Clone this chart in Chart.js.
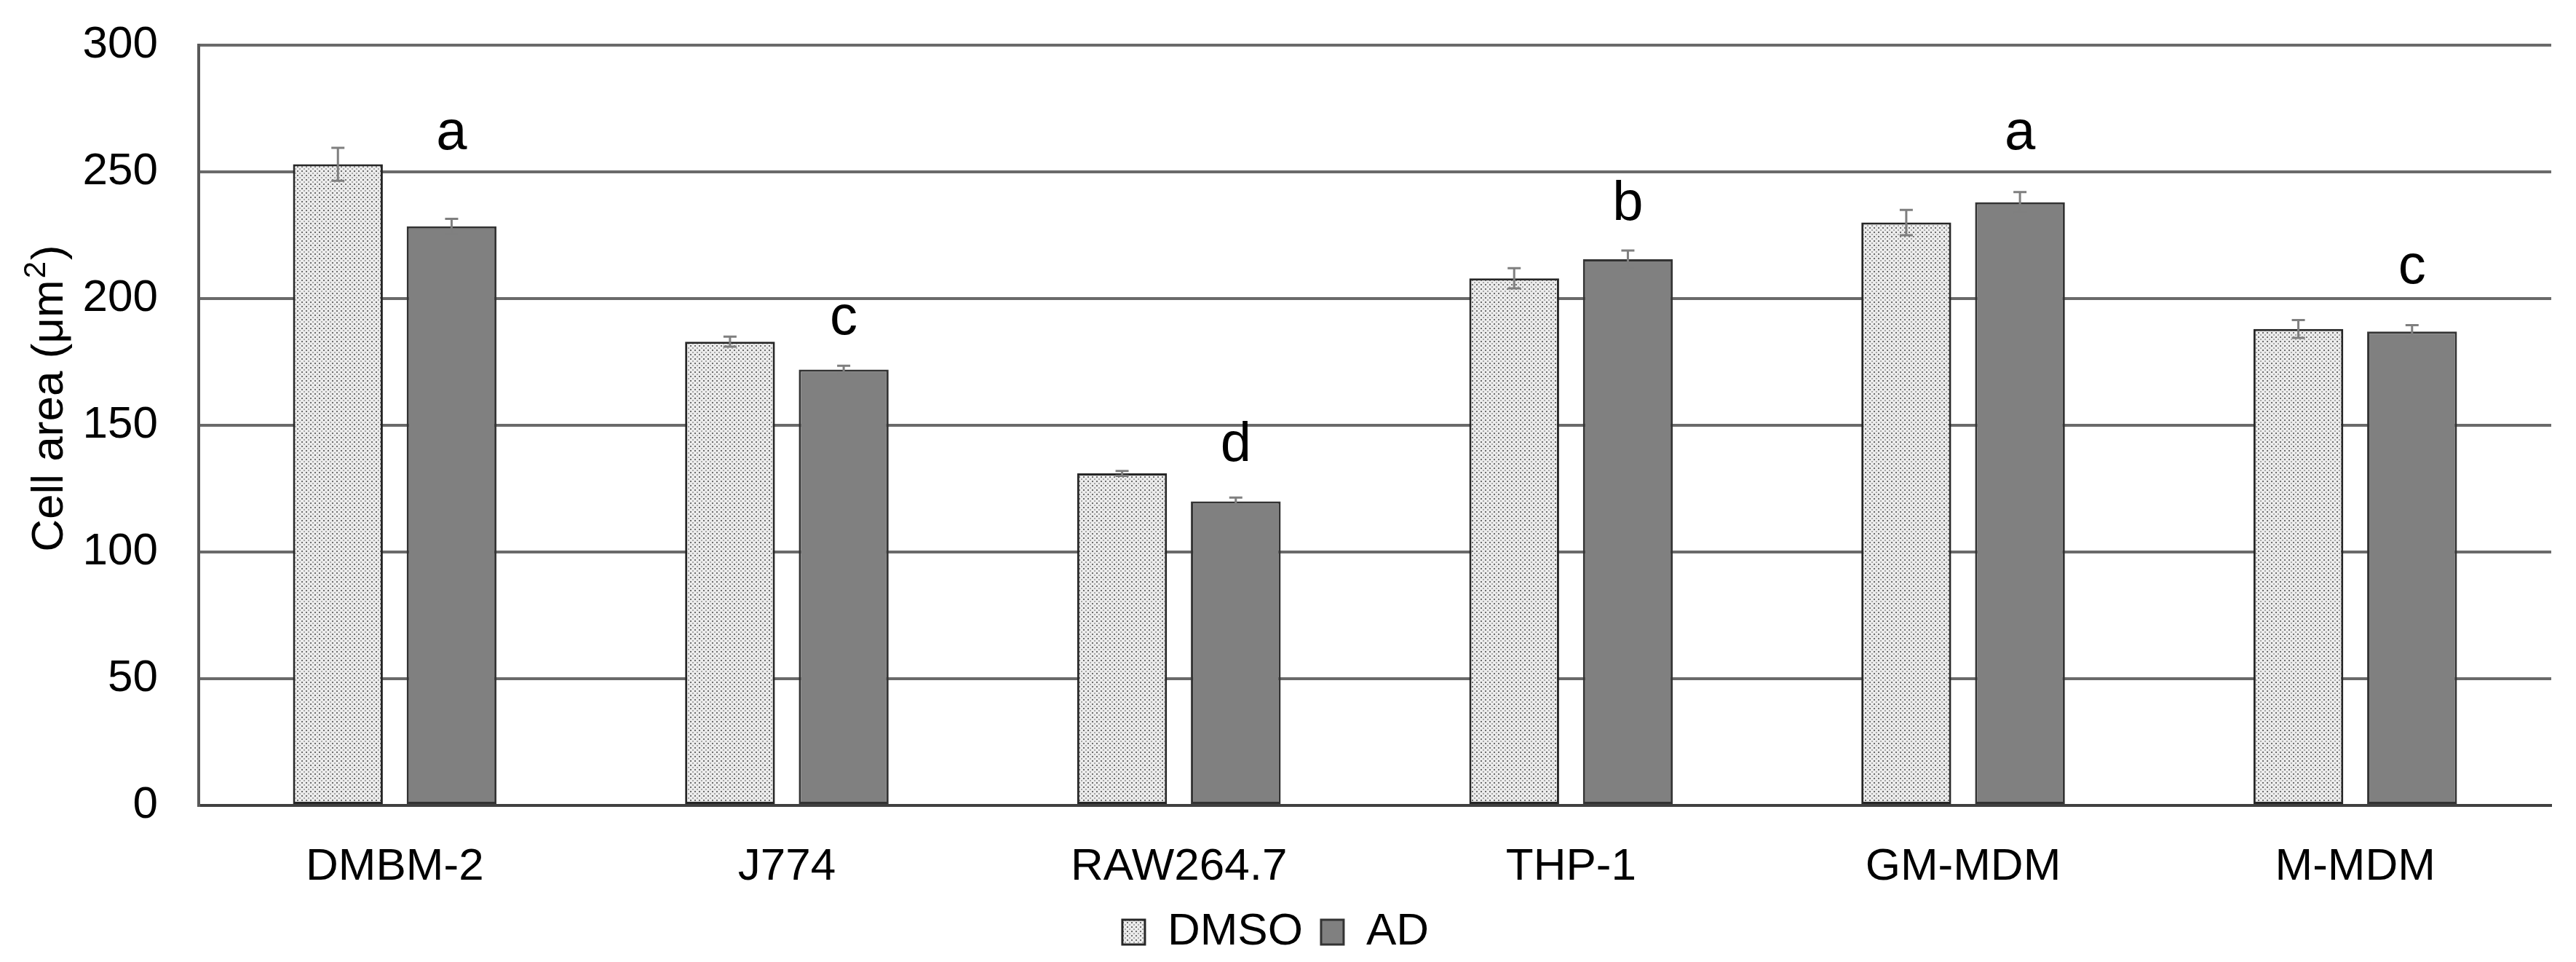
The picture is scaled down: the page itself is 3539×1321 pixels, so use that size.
<!DOCTYPE html>
<html>
<head>
<meta charset="utf-8">
<script src="https://cdn.jsdelivr.net/npm/chart.js@4.4.1/dist/chart.umd.min.js"></script>
<style>
  html, body { margin: 0; padding: 0; background: #fff; }
  #wrap { width: 3539px; height: 1321px; }
</style>
</head>
<body>
<div id="wrap"><canvas id="chart" width="3539" height="1321"></canvas></div>
<script>
var cellLines = ['DMBM-2', 'J774', 'RAW264.7', 'THP-1', 'GM-MDM', 'M-MDM'];
var dmsoArea = [253, 183, 131, 208, 230, 188];
var dmsoErr = [6.5, 2, 1, 4, 5, 3.5];
var adArea = [228.5, 172, 120, 215.5, 238, 187];
var adErr = [3, 1.5, 1.5, 3.5, 4, 2.5];
var groupLetters = ['a', 'c', 'd', 'b', 'a', 'c'];
var letterLevel = [265, 192, 142, 237, 265, 212];
var yTicks = [0, 50, 100, 150, 200, 250, 300];
var yTitle = ['Cell area (μm', '2', ')'];

var FONT = 'Liberation Sans, Arial, sans-serif';

// dotted fill like the Excel "5%" pattern
function dotPattern() {
    var c = document.createElement('canvas');
    c.width = 6; c.height = 6;
    var g = c.getContext('2d');
    g.fillStyle = '#ececec';
    g.fillRect(0, 0, 6, 6);
    g.fillStyle = '#6e6e6e';
    g.fillRect(0, 0, 2, 2);
    g.fillStyle = '#a8a8a8';
    g.fillRect(3, 3, 2, 2);
    return g.createPattern(c, 'repeat');
}

var errorBarPlugin = {
    id: 'errorBars',
    afterDatasetsDraw: function(chart) {
        var ctx = chart.ctx;
        var yScale = chart.scales.y;
        var errs = [dmsoErr, adErr];
        ctx.save();
        ctx.strokeStyle = '#7f7f7f';
        ctx.lineWidth = 3;
        chart.data.datasets.forEach(function(ds, di) {
            var meta = chart.getDatasetMeta(di);
            meta.data.forEach(function(bar, i) {
                var v = ds.data[i], e = errs[di][i];
                var yHi = yScale.getPixelForValue(v + e);
                var yLo = yScale.getPixelForValue(v - e);
                ctx.beginPath();
                ctx.moveTo(bar.x, yHi); ctx.lineTo(bar.x, yLo);
                ctx.moveTo(bar.x - 9, yHi); ctx.lineTo(bar.x + 9, yHi);
                ctx.moveTo(bar.x - 9, yLo); ctx.lineTo(bar.x + 9, yLo);
                ctx.stroke();
            });
        });
        // significance letters above the AD bars
        var adMeta = chart.getDatasetMeta(1);
        ctx.fillStyle = '#000';
        ctx.font = '76px ' + FONT;
        ctx.textAlign = 'center';
        ctx.textBaseline = 'middle';
        adMeta.data.forEach(function(bar, i) {
            ctx.fillText(groupLetters[i], bar.x, yScale.getPixelForValue(letterLevel[i]));
        });

        // y axis title with a real superscript
        var area = chart.chartArea;
        ctx.translate(86, (area.top + area.bottom) / 2 - 35);
        ctx.rotate(-Math.PI / 2);
        ctx.textBaseline = 'alphabetic';
        ctx.textAlign = 'left';
        ctx.font = '62px ' + FONT;
        var w0 = ctx.measureText(yTitle[0]).width;
        var w2 = ctx.measureText(yTitle[2]).width;
        ctx.font = '42px ' + FONT;
        var w1 = ctx.measureText(yTitle[1]).width;
        var x = -(w0 + w1 + w2) / 2;
        ctx.font = '62px ' + FONT;
        ctx.fillText(yTitle[0], x, 0);
        ctx.font = '42px ' + FONT;
        ctx.fillText(yTitle[1], x + w0 + 2, -24);
        ctx.font = '62px ' + FONT;
        ctx.fillText(yTitle[2], x + w0 + w1 + 4, 0);
        ctx.restore();
    }
};

var ctx = document.getElementById('chart').getContext('2d');
new Chart(ctx, {
    type: 'bar',
    data: {
        labels: cellLines,
        datasets: [{
            label: 'DMSO',
            data: dmsoArea,
            backgroundColor: dotPattern(),
            borderColor: '#262626',
            borderWidth: 3,
            borderSkipped: false
        }, {
            label: 'AD',
            data: adArea,
            backgroundColor: '#808080',
            borderColor: '#333333',
            borderWidth: 3,
            borderSkipped: false
        }]
    },
    options: {
        responsive: false,
        animation: false,
        devicePixelRatio: 1,
        categoryPercentage: 0.58,
        barPercentage: 0.79,
        layout: {
            padding: { top: 62, right: 34, bottom: 0, left: 0 }
        },
        scales: {
            x: {
                grid: { display: false, drawTicks: false },
                border: { display: true, color: '#404040', width: 4 },
                ticks: {
                    color: '#000',
                    padding: 48,
                    font: { family: FONT, size: 62 }
                },
                afterFit: function(scale) { scale.height = 118; }
            },
            y: {
                min: 0,
                max: 300,
                afterBuildTicks: function(scale) {
                    scale.ticks = yTicks.map(function(v) { return { value: v }; });
                },
                grid: { color: '#6a6a6a', lineWidth: 4, drawTicks: false },
                border: { display: true, color: '#595959', width: 4 },
                ticks: {
                    color: '#000',
                    padding: 56,
                    font: { family: FONT, size: 62 }
                },
                afterFit: function(scale) {
                    scale.width = 273;
                    scale.paddingTop = 0;
                    scale.paddingBottom = 0;
                }
            }
        },
        plugins: {
            legend: {
                position: 'bottom',
                labels: {
                    color: '#000',
                    boxWidth: 31,
                    boxHeight: 34,
                    padding: 25,
                    font: { family: FONT, size: 62 }
                }
            },
            tooltip: { enabled: false }
        }
    },
    plugins: [errorBarPlugin]
});
</script>
</body>
</html>
